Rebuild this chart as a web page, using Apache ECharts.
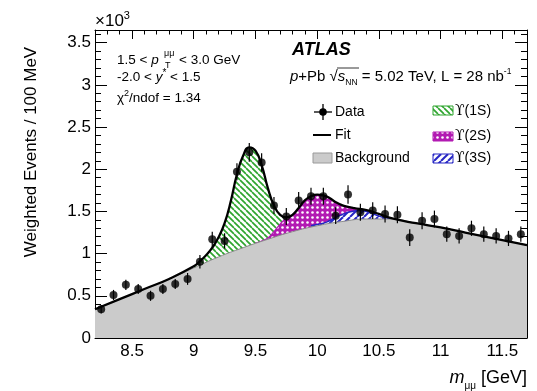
<!DOCTYPE html>
<html>
<head>
<meta charset="utf-8">
<script src="https://cdn.jsdelivr.net/npm/echarts@6/dist/echarts.min.js"></script>
<style>
  html, body { margin: 0; padding: 0; background: #fff; }
  #main { width: 537px; height: 391px; }
</style>
</head>
<body>
<div id="main"></div>
<script>
// all values in units of 10^3 weighted events / 100 MeV
var binCenters = [8.25, 8.35, 8.45, 8.55, 8.65, 8.75, 8.85, 8.95, 9.05, 9.15,
  9.25, 9.35, 9.45, 9.55, 9.65, 9.75, 9.85, 9.95, 10.05, 10.15,
  10.25, 10.35, 10.45, 10.55, 10.65, 10.75, 10.85, 10.95, 11.05, 11.15,
  11.25, 11.35, 11.45, 11.55, 11.65];
var dataValues = [0.34, 0.51, 0.63, 0.58, 0.50, 0.58, 0.64, 0.70, 0.905, 1.17,
  1.15, 1.97, 2.20, 2.08, 1.57, 1.44, 1.63, 1.68, 1.68, 1.45,
  1.70, 1.49, 1.51, 1.47, 1.46, 1.19, 1.39, 1.41, 1.23, 1.21,
  1.30, 1.23, 1.21, 1.18, 1.23];
var dataErrors = [0.05, 0.06, 0.06, 0.06, 0.06, 0.06, 0.06, 0.07, 0.08, 0.09,
  0.09, 0.10, 0.11, 0.11, 0.10, 0.10, 0.10, 0.10, 0.10, 0.10,
  0.11, 0.10, 0.10, 0.10, 0.10, 0.10, 0.10, 0.10, 0.09, 0.09,
  0.09, 0.09, 0.09, 0.09, 0.09];

var fitX = [8.2, 8.4, 8.6, 8.8, 9.0, 9.05, 9.1, 9.15, 9.2, 9.25, 9.3, 9.35, 9.4, 9.45, 9.5,
  9.55, 9.6, 9.65, 9.7, 9.75, 9.8, 9.85, 9.9, 9.95, 10.0, 10.05, 10.1, 10.15, 10.2,
  10.25, 10.3, 10.4, 10.5, 10.6, 10.8, 11.0, 11.2, 11.4, 11.6, 11.7];
var fitY = [0.34, 0.46, 0.58, 0.70, 0.85, 0.91, 0.98, 1.07, 1.19, 1.36, 1.62, 1.94, 2.16, 2.26, 2.22,
  2.05, 1.78, 1.57, 1.46, 1.43, 1.46, 1.54, 1.63, 1.68, 1.70, 1.69, 1.66, 1.61, 1.575,
  1.555, 1.54, 1.515, 1.47, 1.42, 1.36, 1.31, 1.25, 1.19, 1.13, 1.10];

var bkgX = [8.2, 8.4, 8.6, 8.8, 9.0, 9.2, 9.4, 9.6, 9.8, 10.0, 10.2, 10.4, 10.6, 10.8, 11.0, 11.2, 11.4, 11.6, 11.7];
var bkgY = [0.34, 0.46, 0.58, 0.70, 0.83, 0.96, 1.07, 1.17, 1.26, 1.33, 1.38, 1.41, 1.41, 1.36, 1.31, 1.25, 1.19, 1.13, 1.10];

// upper edges of the signal regions
var ups1X = [9.0, 9.05, 9.1, 9.15, 9.2, 9.25, 9.3, 9.35, 9.4, 9.45, 9.5, 9.55, 9.6, 9.65, 9.7, 9.75, 9.8];
var ups1Top = [0.85, 0.91, 0.98, 1.07, 1.19, 1.36, 1.62, 1.94, 2.16, 2.26, 2.22, 2.05, 1.78, 1.57, 1.46, 1.43, 1.46];
var ups2X = [9.5, 9.55, 9.6, 9.65, 9.7, 9.75, 9.8, 9.85, 9.9, 9.95, 10.0, 10.05, 10.1, 10.15, 10.2, 10.25, 10.3, 10.35];
var ups2Top = [1.125, 1.15, 1.185, 1.26, 1.35, 1.42, 1.46, 1.54, 1.63, 1.68, 1.70, 1.69, 1.66, 1.61, 1.57, 1.545, 1.525, 1.51];
var ups3X = [9.95, 10.0, 10.05, 10.1, 10.15, 10.2, 10.25, 10.3, 10.35, 10.4, 10.45, 10.5, 10.55, 10.6];
var ups3Top = [1.33, 1.345, 1.36, 1.39, 1.43, 1.46, 1.49, 1.505, 1.51, 1.50, 1.475, 1.445, 1.425, 1.415];

var xMajorTicks = [8.5, 9, 9.5, 10, 10.5, 11, 11.5];
var yMajorTicks = [0, 0.5, 1, 1.5, 2, 2.5, 3, 3.5];

var FONT = 'Liberation Sans, Arial, Helvetica, sans-serif';

function zip(xs, ys) {
  return xs.map(function (x, i) { return [x, ys[i]]; });
}

function hatch(color, dir, size, width) {
  var c = document.createElement('canvas');
  c.width = size; c.height = size;
  var g = c.getContext('2d');
  g.fillStyle = '#fff';
  g.fillRect(0, 0, size, size);
  g.strokeStyle = color;
  g.lineWidth = width;
  for (var k = -size; k <= size; k += size) {
    g.beginPath();
    if (dir > 0) { g.moveTo(k, size); g.lineTo(k + size, 0); }
    else { g.moveTo(k, 0); g.lineTo(k + size, size); }
    g.stroke();
  }
  return c;
}

function dots(color, size, r) {
  var c = document.createElement('canvas');
  c.width = size; c.height = size;
  var g = c.getContext('2d');
  g.fillStyle = color;
  g.fillRect(0, 0, size, size);
  g.fillStyle = '#fff';
  g.beginPath();
  g.arc(size / 2, size / 2, r, 0, Math.PI * 2);
  g.fill();
  return c;
}

var green = '#2fa52f', magenta = '#b21ab2', blue = '#2626c4';
var greenPat = { image: hatch(green, -1, 6, 1.7), repeat: 'repeat' };
var magentaPat = { image: dots(magenta, 5, 1.3), repeat: 'repeat' };
var bluePat = { image: hatch(blue, 1, 7, 2), repeat: 'repeat' };

function xAxisDef(pos, minor) {
  return {
    type: 'value', min: 8.2, max: 11.7, position: pos,
    interval: minor ? 0.1 : undefined,
    axisLine: { show: !minor, onZero: false, lineStyle: { color: '#000', width: 1 } },
    axisTick: minor
      ? { inside: true, length: 4.5, lineStyle: { color: '#000' } }
      : { inside: true, length: 9, customValues: xMajorTicks, lineStyle: { color: '#000' } },
    axisLabel: (!minor && pos === 'bottom')
      ? { show: true, customValues: xMajorTicks, color: '#000', fontSize: 17, fontFamily: FONT, margin: 5 }
      : { show: false },
    splitLine: { show: false }
  };
}

function yAxisDef(pos, minor) {
  return {
    type: 'value', min: 0, max: 3.65, position: pos,
    interval: minor ? 0.1 : undefined,
    axisLine: { show: !minor, onZero: false, lineStyle: { color: '#000', width: 1 } },
    axisTick: minor
      ? { inside: true, length: 6, lineStyle: { color: '#000' } }
      : { inside: true, length: 12, customValues: yMajorTicks, lineStyle: { color: '#000' } },
    axisLabel: (!minor && pos === 'left')
      ? { show: true, customValues: yMajorTicks, color: '#000', fontSize: 17, fontFamily: FONT, margin: 4 }
      : { show: false },
    splitLine: { show: false }
  };
}

var chart = echarts.init(document.getElementById('main'));

var upsRich = { u: { fontFamily: 'DejaVu Serif', fontSize: 14 } };

chart.setOption({
  animation: false,
  backgroundColor: '#fff',
  grid: { left: 95, right: 10, top: 30, bottom: 53 },
  xAxis: [xAxisDef('bottom', false), xAxisDef('bottom', true), xAxisDef('top', false), xAxisDef('top', true)],
  yAxis: [yAxisDef('left', false), yAxisDef('left', true), yAxisDef('right', false), yAxisDef('right', true)],
  series: [
    {
      name: 'Υ(1S)', type: 'line', z: 1, smooth: true, symbol: 'none',
      data: zip(ups1X, ups1Top),
      lineStyle: { width: 0 },
      areaStyle: { color: greenPat, opacity: 1 }
    },
    {
      name: 'Υ(2S)', type: 'line', z: 2, smooth: true, symbol: 'none',
      data: zip(ups2X, ups2Top),
      lineStyle: { color: magenta, width: 1.2 },
      areaStyle: { color: magentaPat, opacity: 1 }
    },
    {
      name: 'Υ(3S)', type: 'line', z: 3, smooth: true, symbol: 'none',
      data: zip(ups3X, ups3Top),
      lineStyle: { color: blue, width: 1.5 },
      areaStyle: { color: bluePat, opacity: 1 }
    },
    {
      name: 'Background', type: 'line', z: 4, smooth: true, symbol: 'none',
      data: zip(bkgX, bkgY),
      lineStyle: { color: '#8a8a8a', width: 1 },
      areaStyle: { color: '#cbcbcb', opacity: 1 }
    },
    {
      name: 'Fit', type: 'line', z: 5, smooth: true, symbol: 'none',
      data: zip(fitX, fitY),
      lineStyle: { color: '#000', width: 2.3 }
    },
    {
      name: 'errors', type: 'custom', z: 6,
      data: binCenters.map(function (x, i) {
        return [x, dataValues[i] - dataErrors[i], dataValues[i] + dataErrors[i]];
      }),
      encode: { x: 0, y: [1, 2] },
      renderItem: function (params, api) {
        var lo = api.coord([api.value(0), api.value(1)]);
        var hi = api.coord([api.value(0), api.value(2)]);
        return {
          type: 'line',
          shape: { x1: lo[0], y1: lo[1], x2: hi[0], y2: hi[1] },
          style: { stroke: '#000', lineWidth: 1.2 }
        };
      }
    },
    {
      name: 'Data', type: 'scatter', z: 7, symbolSize: 8,
      data: zip(binCenters, dataValues),
      itemStyle: { color: '#000' }
    }
  ],
  graphic: [
    { type: 'text', x: 95, y: 21, style: { text: '×10{sup|3}', font: '17px ' + FONT, fill: '#000', verticalAlign: 'middle', lineHeight: 22,
      rich: { sup: { fontSize: 11, fontFamily: FONT, verticalAlign: 'top', lineHeight: 22 } } } },
    { type: 'text', x: 31, y: 152, rotation: Math.PI / 2,
      style: { text: 'Weighted Events / 100 MeV', font: '17px ' + FONT, fill: '#000', align: 'center', verticalAlign: 'middle' } },
    { type: 'text', x: 527, y: 378,
      style: { text: '{i|m}{sub|μμ} [GeV]', font: '18px ' + FONT, fill: '#000', align: 'right', verticalAlign: 'middle', lineHeight: 18,
        rich: { i: { fontStyle: 'italic', fontSize: 18, fontFamily: FONT, lineHeight: 18 }, sub: { fontSize: 10, fontFamily: FONT, verticalAlign: 'bottom', lineHeight: 18, padding: [0, 0, -4, 0] } } } },

    // selection text
    { type: 'text', x: 117, y: 60,
      style: { text: '1.5 < {i|p}', font: '13.5px ' + FONT, fill: '#000', verticalAlign: 'middle',
        rich: { i: { fontStyle: 'italic', fontSize: 13.5, fontFamily: FONT } } } },
    { type: 'text', x: 164, y: 54, style: { text: 'μμ', font: '9px ' + FONT, fill: '#000', verticalAlign: 'middle' } },
    { type: 'text', x: 165, y: 66, style: { text: 'T', font: '9px ' + FONT, fill: '#000', verticalAlign: 'middle' } },
    { type: 'text', x: 179, y: 60, style: { text: '< 3.0 GeV', font: '13.5px ' + FONT, fill: '#000', verticalAlign: 'middle' } },
    { type: 'text', x: 117, y: 77,
      style: { text: '-2.0 < {i|y}{sup|*} < 1.5', font: '13.5px ' + FONT, fill: '#000', verticalAlign: 'middle', lineHeight: 18,
        rich: { i: { fontStyle: 'italic', fontSize: 13.5, fontFamily: FONT }, sup: { fontSize: 10, fontFamily: FONT, verticalAlign: 'top', lineHeight: 18 } } } },
    { type: 'text', x: 117, y: 98,
      style: { text: 'χ{sup|2}/ndof = 1.34', font: '13.5px ' + FONT, fill: '#000', verticalAlign: 'middle', lineHeight: 18,
        rich: { sup: { fontSize: 9, fontFamily: FONT, verticalAlign: 'top', lineHeight: 18 } } } },

    // experiment label
    { type: 'text', x: 292, y: 50, style: { text: 'ATLAS', font: 'italic bold 18px ' + FONT, fill: '#000', verticalAlign: 'middle' } },
    { type: 'text', x: 290, y: 77,
      style: { text: '{i|p}+Pb √{i|s}{sub|NN} = 5.02 TeV, L = 28 nb{sup|-1}', font: '15px ' + FONT, fill: '#000', verticalAlign: 'middle', lineHeight: 20,
        rich: {
          i: { fontStyle: 'italic', fontSize: 15, fontFamily: FONT },
          sub: { fontSize: 8.5, fontFamily: FONT, verticalAlign: 'bottom', lineHeight: 20 },
          sup: { fontSize: 8.5, fontFamily: FONT, verticalAlign: 'top', lineHeight: 20 }
        } } },
    { type: 'line', shape: { x1: 337, y1: 68, x2: 359, y2: 68 }, style: { stroke: '#000', lineWidth: 0.8 } },

    // legend
    { type: 'line', shape: { x1: 314, y1: 112, x2: 332, y2: 112 }, style: { stroke: '#000', lineWidth: 1.3 } },
    { type: 'line', shape: { x1: 323, y1: 104, x2: 323, y2: 120 }, style: { stroke: '#000', lineWidth: 1.3 } },
    { type: 'circle', shape: { cx: 323, cy: 112, r: 3.8 }, style: { fill: '#000' } },
    { type: 'text', x: 335, y: 112, style: { text: 'Data', font: '14px ' + FONT, fill: '#000', verticalAlign: 'middle' } },
    { type: 'line', shape: { x1: 313, y1: 135, x2: 331, y2: 135 }, style: { stroke: '#000', lineWidth: 2 } },
    { type: 'text', x: 335, y: 135, style: { text: 'Fit', font: '14px ' + FONT, fill: '#000', verticalAlign: 'middle' } },
    { type: 'rect', shape: { x: 313, y: 153, width: 19, height: 10 }, style: { fill: '#cbcbcb', stroke: '#9a9a9a', lineWidth: 1 } },
    { type: 'text', x: 335, y: 158, style: { text: 'Background', font: '14px ' + FONT, fill: '#000', verticalAlign: 'middle' } },
    { type: 'rect', shape: { x: 433, y: 106, width: 20, height: 9 }, style: { fill: greenPat, stroke: green, lineWidth: 1 } },
    { type: 'text', x: 455, y: 111, style: { text: '{u|ϒ}(1S)', font: '14px ' + FONT, fill: '#000', verticalAlign: 'middle', rich: upsRich } },
    { type: 'rect', shape: { x: 433, y: 132, width: 20, height: 9 }, style: { fill: magentaPat, stroke: magenta, lineWidth: 1 } },
    { type: 'text', x: 455, y: 136, style: { text: '{u|ϒ}(2S)', font: '14px ' + FONT, fill: '#000', verticalAlign: 'middle', rich: upsRich } },
    { type: 'rect', shape: { x: 433, y: 154, width: 20, height: 9 }, style: { fill: bluePat, stroke: blue, lineWidth: 1 } },
    { type: 'text', x: 455, y: 158, style: { text: '{u|ϒ}(3S)', font: '14px ' + FONT, fill: '#000', verticalAlign: 'middle', rich: upsRich } }
  ]
});
</script>
</body>
</html>
